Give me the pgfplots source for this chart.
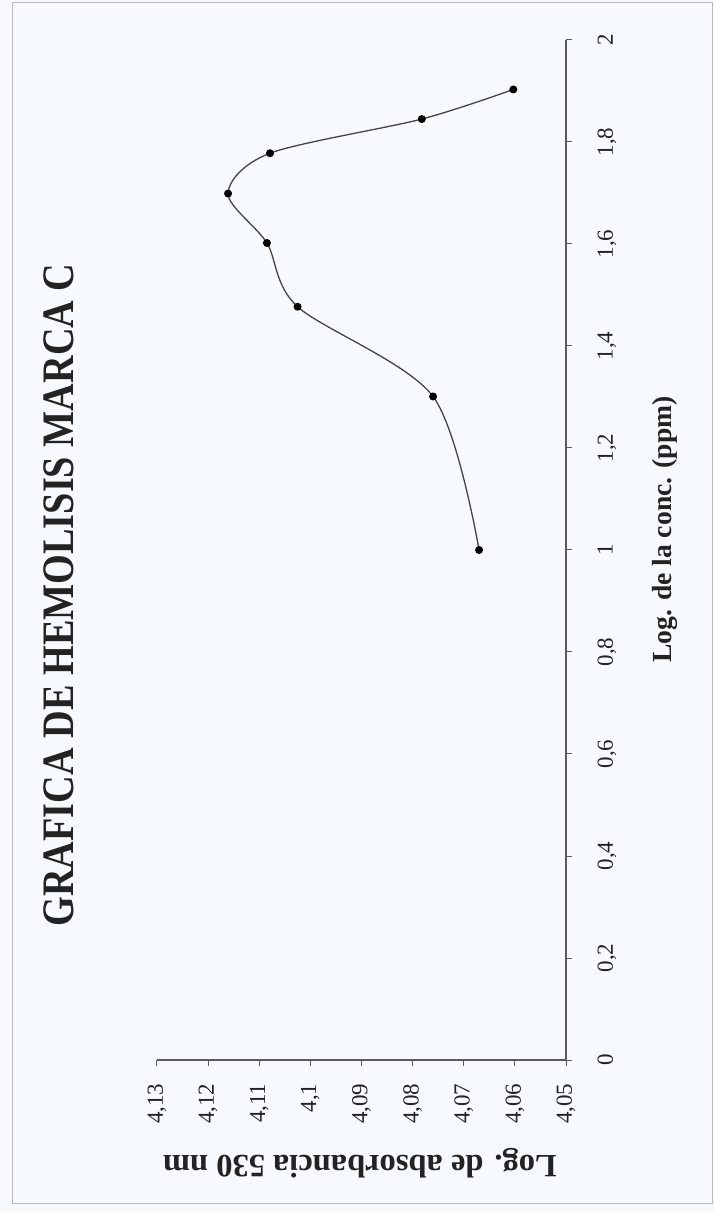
\documentclass[border=0pt]{standalone}
\usepackage{fontspec}
\setmainfont{Liberation Serif}
\newfontfamily\titlefont{Liberation Serif}[FakeStretch=0.85]
\usepackage{graphicx}
\usepackage{pgfplots}
\pgfplotsset{compat=1.18}
\definecolor{bg}{RGB}{246,250,252}
\definecolor{ink}{RGB}{35,35,35}
\begin{document}
\rotatebox{90}{%
\begin{tikzpicture}
\fill[bg] (-152pt,-148pt) rectangle (1060pt,566pt);
\draw[gray!55, line width=1pt] (-143pt,-146pt) rectangle (1057pt,553pt);
\begin{axis}[
  scale only axis, width=1020pt, height=409pt,
  xmin=0, xmax=2, ymin=4.05, ymax=4.13,
  axis x line*=bottom, axis y line*=left,
  axis line style={ink!75, line width=1.2pt},
  xtick={0,0.2,0.4,0.6,0.8,1,1.2,1.4,1.6,1.8,2},
  xticklabels={0,{0,2},{0,4},{0,6},{0,8},1,{1,2},{1,4},{1,6},{1,8},2},
  ytick={4.05,4.06,4.07,4.08,4.09,4.10,4.11,4.12,4.13},
  yticklabels={{4,05},{4,06},{4,07},{4,08},{4,09},{4,1},{4,11},{4,12},{4,13}},
  tick align=outside, major tick length=6pt,
  tick style={ink!75, line width=1pt},
  tick label style={font=\fontsize{23}{26}\selectfont, text=ink},
  xticklabel style={yshift=-22pt},
  yticklabel style={xshift=-14pt},
  xlabel={Log. de la conc. (ppm)},
  xlabel style={font=\fontsize{27.6}{30}\selectfont\bfseries, text=ink, at={(axis description cs:0.52,-0.242)}, anchor=center},
  ylabel={Log. de absorbancia 530 nm},
  ylabel style={font=\fontsize{32.5}{35}\selectfont\bfseries, text=ink, at={(axis description cs:-0.101,0.504)}, anchor=center},
  title={GRAFICA DE HEMOLISIS MARCA C},
  title style={font=\titlefont\bfseries\fontsize{45}{50}\selectfont, text=ink, at={(axis description cs:0.456,1.225)}, anchor=center},
  clip=false,
]
\addplot[ink!85, line width=1.3pt, smooth, tension=0.5, mark=*, mark size=3.3pt, mark options={fill=black, draw=black, solid}]
  coordinates {(1,4.0670)(1.301,4.0760)(1.477,4.1025)(1.602,4.1085)(1.699,4.1161)(1.778,4.1079)(1.845,4.0782)(1.903,4.0603)};
\end{axis}
\end{tikzpicture}}
\end{document}
